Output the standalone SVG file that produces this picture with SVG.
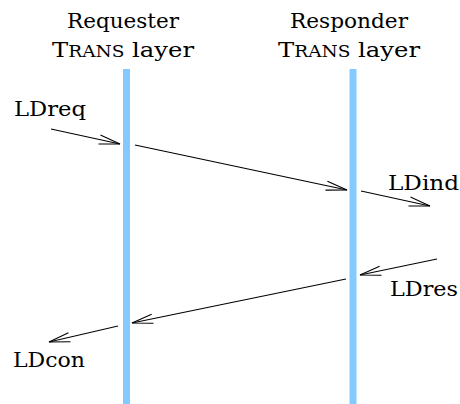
<svg xmlns="http://www.w3.org/2000/svg" width="460" height="404" viewBox="0 0 460 404">
  <style>
    text { font-family: 'DejaVu Serif', 'Liberation Serif', 'Times New Roman', serif; font-size: 21px; fill: #000; }
    .sc { font-size: 16px; }
    .bar { fill: #82CAFF; }
    .msg { stroke: #000; stroke-width: 1.1; fill: none; marker-end: url(#head); }
  </style>
  <defs>
    <marker id="head" markerUnits="userSpaceOnUse" markerWidth="30" markerHeight="14" viewBox="-24 -7 26 14" refX="0" refY="0" orient="auto" overflow="visible">
      <path d="M-21,-4.6 L0,0 L-21,4.6" fill="none" stroke="#000" stroke-width="1.1"/>
    </marker>
  </defs>

  <!-- Requester lifeline -->
  <g id="requester">
    <text x="123" y="27.5" text-anchor="middle" textLength="112" lengthAdjust="spacingAndGlyphs">Requester</text>
    <text x="123" y="57" text-anchor="middle" textLength="142" lengthAdjust="spacingAndGlyphs">T<tspan class="sc">RANS</tspan> layer</text>
    <rect class="bar" x="123" y="69" width="7" height="335"/>
  </g>

  <!-- Responder lifeline -->
  <g id="responder">
    <text x="349" y="27.5" text-anchor="middle" textLength="118" lengthAdjust="spacingAndGlyphs">Responder</text>
    <text x="349" y="57" text-anchor="middle" textLength="142" lengthAdjust="spacingAndGlyphs">T<tspan class="sc">RANS</tspan> layer</text>
    <rect class="bar" x="349.5" y="69" width="7" height="335"/>
  </g>

  <!-- Primitive labels -->
  <g id="label-ldreq"><text x="14" y="116" textLength="72" lengthAdjust="spacingAndGlyphs">LDreq</text></g>
  <g id="label-ldind"><text x="388" y="190" textLength="71" lengthAdjust="spacingAndGlyphs">LDind</text></g>
  <g id="label-ldres"><text x="390" y="296" textLength="68" lengthAdjust="spacingAndGlyphs">LDres</text></g>
  <g id="label-ldcon"><text x="13" y="367" textLength="72" lengthAdjust="spacingAndGlyphs">LDcon</text></g>

  <!-- Message arrows -->
  <g id="connectors">
    <line class="msg" x1="51" y1="129" x2="120" y2="144"/>
    <line class="msg" x1="135" y1="145" x2="347" y2="190"/>
    <line class="msg" x1="361" y1="191" x2="430" y2="206"/>
    <line class="msg" x1="437" y1="259" x2="360" y2="275"/>
    <line class="msg" x1="346" y1="279" x2="132" y2="323"/>
    <line class="msg" x1="118" y1="326" x2="49" y2="342"/>
  </g>
</svg>
